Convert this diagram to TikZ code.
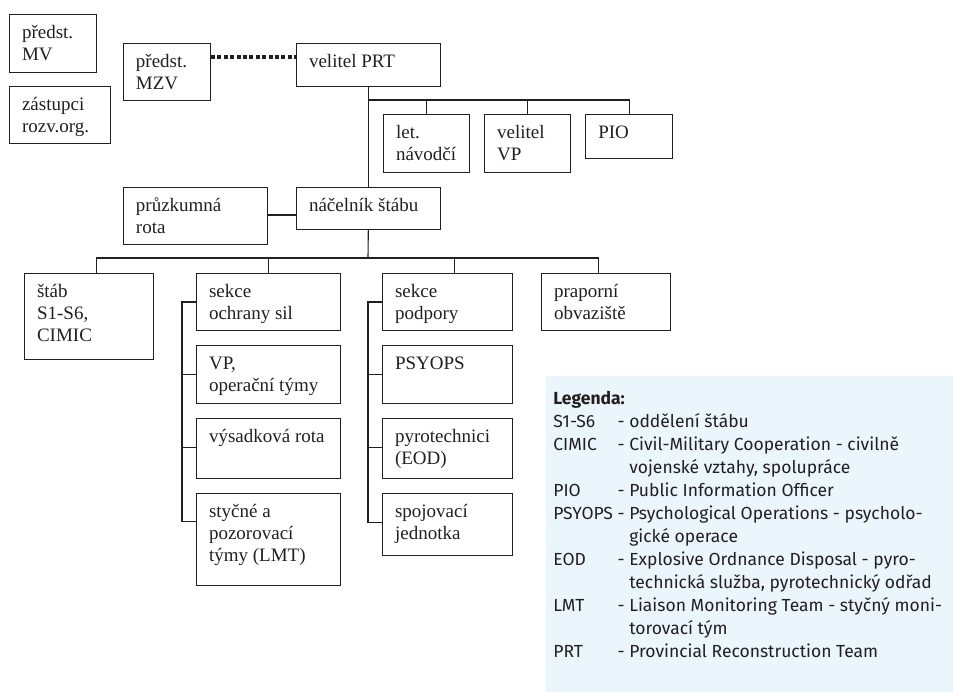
\documentclass[tikz,border=0pt]{standalone}
\usepackage{fontspec}
\setmainfont{Liberation Serif}
\newfontfamily\legendfont{Fira Sans}
\usepackage{tikz}
\usetikzlibrary{positioning}
\definecolor{inkgray}{RGB}{35,31,32}
\definecolor{legendblue}{RGB}{234,246,252}
\tikzset{
	unit/.style 2 args={
		draw=inkgray,
		line width=0.55pt,
		anchor=north west,
		inner xsep=6.25pt,
		inner ysep=0pt,
		text=inkgray,
		font=\fontsize{9.5}{11}\selectfont,
		execute at begin node={\begin{minipage}[t][#2][t]{\dimexpr#1-12.5pt\relax}\raggedright\rule{0pt}{12pt}},
		execute at end node={\end{minipage}}
	},
	link/.style={
		draw=inkgray,
		line width=0.55pt,
	},
	liaison/.style={
		draw=inkgray,
		line width=1.6pt,
		dash pattern=on 2pt off 1.2pt,
	},
	legend/.style={
		anchor=north west,
		inner sep=0pt,
		text=inkgray,
		font={\legendfont\fontsize{8.75}{11.5}\selectfont}
	}
}

\begin{document}
\begin{tikzpicture}[x=0.5pt, y=-0.5pt]
	\useasboundingbox (0,0) rectangle (953,692);
	% outside the command line
	\node[unit={43.5pt}{29pt}] (mv) at (9,14) {předst.\\MV};
	\node[unit={50.5pt}{28.5pt}] (zast) at (9,86) {zástupci\\rozv.org.};
	
	\node[unit={72pt}{21.5pt}] (prt) at (296,43) {velitel PRT};
	\node[unit={43.5pt}{28.5pt}, left=42.5pt of prt.north west, anchor=north east] (mzv) {předst.\\MZV};
	
	\node[unit={43pt}{29pt}] (let) at (383,114) {let.\\návodčí};
	\node[unit={43pt}{29pt}, right=7pt of let.north east, anchor=north west] (vvp) {velitel\\VP};
	\node[unit={43.5pt}{22pt}, right=7pt of vvp.north east, anchor=north west] (pio) {PIO};
	
	\node[unit={72pt}{21pt}] (nacel) at (296,187) {náčelník štábu};
	\node[unit={72pt}{28.5pt}, left=14pt of nacel.north west, anchor=north east] (pruzk) {průzkumná\\rota};
	
	% staff level
	\node[unit={64.5pt}{43pt}] (stab) at (24,273) {štáb\\S1-S6,\\CIMIC};
	\node[unit={72pt}{28.5pt}] (ochr) at (196,273) {sekce\\ochrany sil};
	\node[unit={65pt}{28.5pt}] (podp) at (382,273) {sekce\\podpory};
	\node[unit={64.5pt}{28.5pt}] (prap) at (541,273) {praporní\\obvaziště};
	
	\node[unit={72pt}{29pt}, below=7pt of ochr.south west, anchor=north west] (vp) {VP,\\operační týmy};
	\node[unit={72pt}{30pt}, below=7pt of vp.south west, anchor=north west] (vysad) {výsadková rota};
	\node[unit={72pt}{46pt}, below=7pt of vysad.south west, anchor=north west] (lmt) {styčné a\\pozorovací\\týmy (LMT)};
	
	\node[unit={65pt}{29pt}, below=7pt of podp.south west, anchor=north west] (psy) {PSYOPS};
	\node[unit={65pt}{30pt}, below=7pt of psy.south west, anchor=north west] (pyro) {pyrotechnici\\(EOD)};
	\node[unit={65pt}{31pt}, below=7pt of pyro.south west, anchor=north west] (spoj) {spojovací\\jednotka};
	
	% connectors
	\draw[liaison] ([yshift=-7pt]mzv.north east) -- ([yshift=-7pt]prt.north west);
	\coordinate (hq) at (368,100);
	\draw[link] (prt) -- (nacel);
	\draw[link] (hq) -| (pio.north);
	\foreach \n in {let,vvp}
		\draw[link] (\n.north) -- (\n.north |- hq);
	\draw[link] ([yshift=-14pt]pruzk.north east) -- ([yshift=-14pt]nacel.north west);
	
	\coordinate (staff) at (368,258);
	\draw[link] (nacel) -- (staff);
	\draw[link] ([xshift=3.75pt]stab.north) |- (staff) -| ([xshift=-3.75pt]prap.north);
	\draw[link] (ochr.north) -- (ochr.north |- staff);
	\draw[link] ([xshift=3.5pt]podp.north) -- ([xshift=3.5pt]podp.north |- staff);
	
	\draw[link] ([yshift=-14.5pt]ochr.north west) -- ++(-7pt,0) |- ([yshift=-14pt]lmt.north west);
	\foreach \n in {vp,vysad}
		\draw[link] ([yshift=-14.5pt]\n.north west) -- ++(-7pt,0);
	\draw[link] ([yshift=-14.5pt]podp.north west) -- ++(-7pt,0) |- ([yshift=-14.5pt]spoj.north west);
	\foreach \n in {psy,pyro}
		\draw[link] ([yshift=-14.5pt]\n.north west) -- ++(-7pt,0);
	
	% legend
	\fill[legendblue] (546,376) rectangle (953,692);
	\node[legend] (key) at (553,388) {%
		\begin{tabular}{@{}l@{\ }l@{\ }l@{}}
			\multicolumn{3}{@{}l@{}}{\bfseries Legenda:}\\
			S1-S6 & - & oddělení štábu\\
			CIMIC & - & Civil-Military Cooperation - civilně\\
			 & & vojenské vztahy, spolupráce\\
			PIO & - & Public Information Officer\\
			PSYOPS & - & Psychological Operations - psycholo-\\
			 & & gické operace\\
			EOD & - & Explosive Ordnance Disposal - pyro-\\
			 & & technická služba, pyrotechnický odřad\\
			LMT & - & Liaison Monitoring Team - styčný moni-\\
			 & & torovací tým\\
			PRT & - & Provincial Reconstruction Team
		\end{tabular}};
\end{tikzpicture}
\end{document}
